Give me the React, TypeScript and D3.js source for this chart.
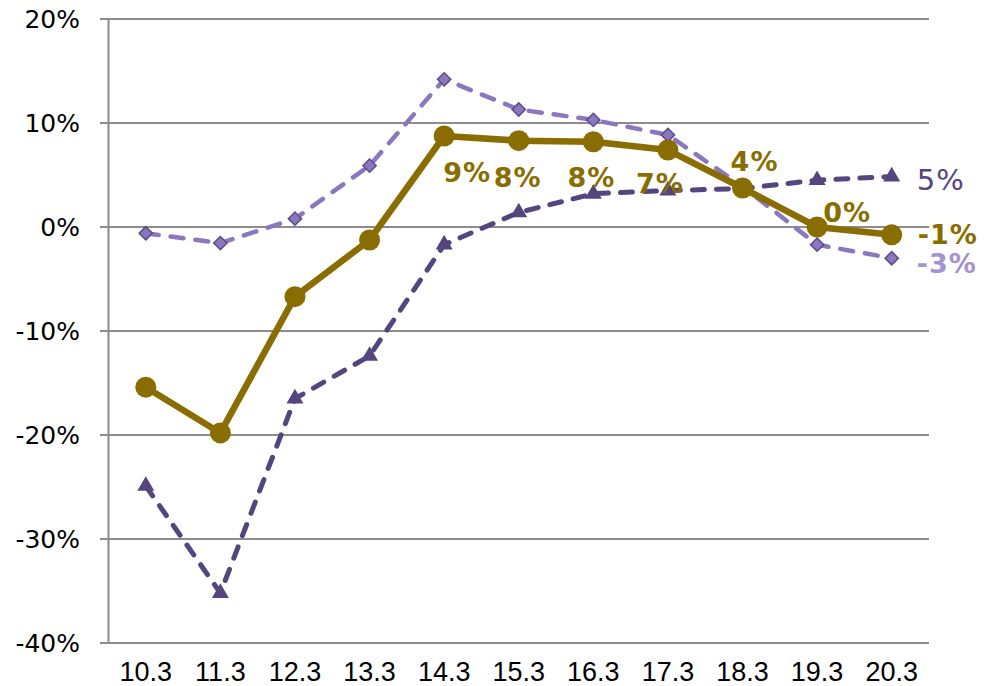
import React from "react";
import * as d3 from "d3";

const categories = ["10.3", "11.3", "12.3", "13.3", "14.3", "15.3", "16.3", "17.3", "18.3", "19.3", "20.3"];
const goldSeries = [-15.4, -19.8, -6.7, -1.25, 8.75, 8.3, 8.2, 7.4, 3.75, 0.0, -0.75];
const darkSeries = [-24.9, -35.2, -16.5, -12.4, -1.7, 1.4, 3.2, 3.5, 3.7, 4.5, 4.85];
const lightSeries = [-0.6, -1.55, 0.8, 5.9, 14.2, 11.3, 10.3, 8.85, 3.9, -1.7, -3.0];
const goldLabels = ["", "", "", "", "9%", "8%", "8%", "7%", "4%", "0%", "-1%"];
const darkEndLabel = "5%";
const lightEndLabel = "-3%";
const yTicks = [-40, -30, -20, -10, 0, 10, 20];

// label placement offsets (dx = center offset, dy = baseline offset), style only
const goldLabelOffsets: [number, number, string][] = [
  [0, 0, "middle"], [0, 0, "middle"], [0, 0, "middle"], [0, 0, "middle"],
  [23, 46, "middle"], [-1, 46, "middle"], [-2, 45, "middle"], [-8, 43, "middle"],
  [12, -17, "middle"], [30, -5, "middle"], [26, 9, "start"],
];

const W = 985;
const H = 686;
const GOLD = "#8a6d00";
const DARK = "#55457f";
const LIGHT = "#8a77bd";
const LIGHT_STROKE = "#5d4a8c";
const GRID = "#8c8c8c";

export default function App() {
  const x = d3.scaleBand<string>().domain(categories).range([108.5, 929]).paddingInner(0).paddingOuter(0);
  const cx = (c: string) => (x(c) as number) + x.bandwidth() / 2;
  const y = d3.scaleLinear().domain([-40, 20]).range([643, 19]);

  const line = d3
    .line<number>()
    .x((_, i) => cx(categories[i]))
    .y((d) => y(d));

  const tri = d3.symbol().type(d3.symbolTriangle).size(125)();
  const diamond = d3.symbol().type(d3.symbolSquare).size(88)();

  const lastX = cx(categories[categories.length - 1]);

  return (
    <div style={{ position: "absolute", left: 0, top: 0 }}>
      <svg width={W} height={H} style={{ display: "block", background: "#fff" }}>
        {/* gridlines */}
        {yTicks.map((t) => (
          <line key={t} x1={100} x2={929} y1={y(t)} y2={y(t)} stroke={GRID} strokeWidth={2} />
        ))}
        <line x1={108.5} x2={108.5} y1={y(20)} y2={y(-40)} stroke={GRID} strokeWidth={2} />
        {/* y labels */}
        {yTicks.map((t) => (
          <text
            key={"l" + t}
            x={80}
            y={y(t) + 9}
            textAnchor="end"
            fontFamily="DejaVu Sans, Verdana, sans-serif"
            fontSize={25}
            fill="#000"
          >
            {t + "%"}
          </text>
        ))}
        {/* x labels */}
        {categories.map((c) => (
          <text
            key={"x" + c}
            x={cx(c)}
            y={681}
            textAnchor="middle"
            fontFamily="Liberation Sans, Arial, sans-serif"
            fontSize={27}
            fill="#000"
          >
            {c}
          </text>
        ))}

        {/* dark triangles series */}
        <path
          d={line(darkSeries) || ""}
          fill="none"
          stroke={DARK}
          strokeWidth={5}
          strokeDasharray="12 12"
          strokeLinecap="round"
        />
        {darkSeries.map((v, i) => (
          <path key={"t" + i} d={tri || ""} transform={`translate(${cx(categories[i])},${y(v)})`} fill={DARK} />
        ))}

        {/* light diamonds series */}
        <path
          d={line(lightSeries) || ""}
          fill="none"
          stroke={LIGHT}
          strokeWidth={4.5}
          strokeDasharray="13 12"
          strokeLinecap="round"
        />
        {lightSeries.map((v, i) => (
          <path
            key={"d" + i}
            d={diamond || ""}
            transform={`translate(${cx(categories[i])},${y(v)}) rotate(45)`}
            fill={LIGHT}
            stroke={LIGHT_STROKE}
            strokeWidth={1.5}
          />
        ))}

        {/* gold series */}
        <path d={line(goldSeries) || ""} fill="none" stroke={GOLD} strokeWidth={6.5} strokeLinejoin="round" />
        {goldSeries.map((v, i) => (
          <circle key={"c" + i} cx={cx(categories[i])} cy={y(v)} r={10.5} fill={GOLD} />
        ))}

        {/* gold labels */}
        {goldSeries.map((v, i) =>
          goldLabels[i] ? (
            <text
              key={"gl" + i}
              x={cx(categories[i]) + goldLabelOffsets[i][0]}
              y={y(v) + goldLabelOffsets[i][1]}
              textAnchor={goldLabelOffsets[i][2] as any}
              fontFamily="DejaVu Sans, Verdana, sans-serif"
              fontWeight="bold"
              fontSize={27}
              letterSpacing={1}
              fill={GOLD}
            >
              {goldLabels[i]}
            </text>
          ) : null
        )}
        <text
          x={lastX + 25}
          y={y(darkSeries[darkSeries.length - 1]) + 13}
          fontFamily="DejaVu Sans, Verdana, sans-serif"
          fontSize={29}
          letterSpacing={1}
          fill={DARK}
        >
          {darkEndLabel}
        </text>
        <text
          x={lastX + 25}
          y={y(lightSeries[lightSeries.length - 1]) + 15}
          fontFamily="DejaVu Sans, Verdana, sans-serif"
          fontWeight="bold"
          fontSize={27}
          letterSpacing={1}
          fill={"#a393cf"}
        >
          {lightEndLabel}
        </text>
      </svg>
    </div>
  );
}
